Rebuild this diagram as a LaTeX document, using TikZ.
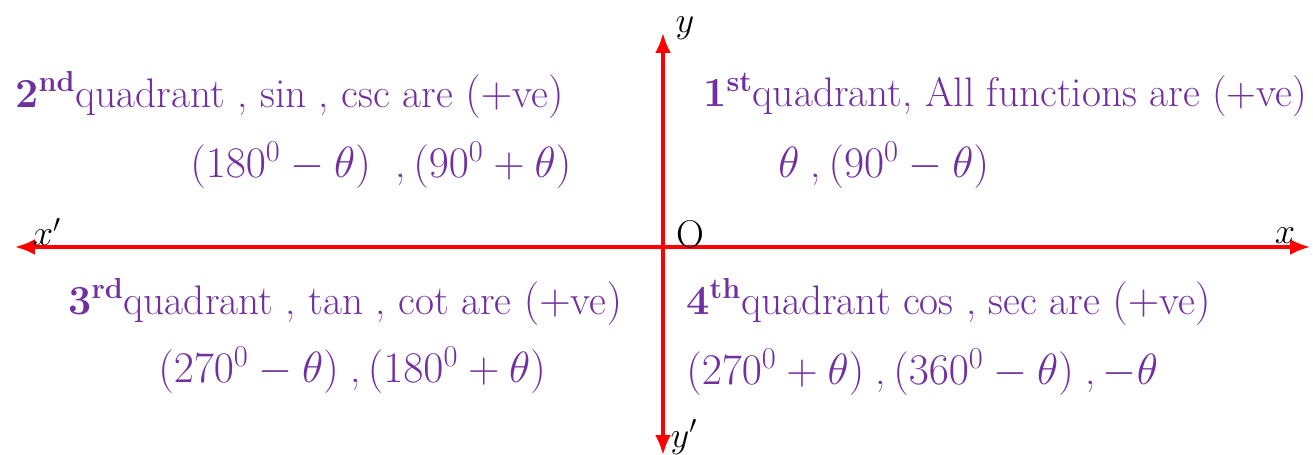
\documentclass[tikz,border=0pt]{standalone}
\usepackage{amsmath}
\usepackage{xcolor}
\usetikzlibrary{arrows.meta}
\definecolor{quadpurple}{RGB}{112,48,160}

\begin{document}
\begin{tikzpicture}[x=0.02cm, y=-0.02cm,
    axis/.style={{Latex[length=4mm,width=3.2mm]}-{Latex[length=4mm,width=3.2mm]}, red, line width=1.8pt},
    quad/.style={anchor=west, text=quadpurple, font=\fontsize{23.5}{26}\selectfont, inner sep=0pt},
    lbl/.style={font=\fontsize{22}{24}\selectfont, inner sep=0pt}
]
\useasboundingbox (0,0) rectangle (1313,455);

% axes
\coordinate (xl) at (15,247);
\coordinate (xr) at (1310,247);
\coordinate (yt) at (663,33);
\coordinate (yb) at (663,455);
\draw[axis] (xl) -- (xr);
\draw[axis] (yb) -- (yt);

\node[lbl] (xlab) at (47,232) {$x'$};
\node[lbl] (xrlab) at (1285,236) {$x$};
\node[lbl] (ylab) at (685,28) {$y$};
\node[lbl] (yblab) at (684,437) {$y'$};
\node[lbl] (olab) at (690,234) {O};

% 2nd quadrant
\node[quad] (q2a) at (15,95) {\textbf{2}$^{\textbf{nd}}$quadrant , sin , csc are $(+$ve$)$};
\node[quad] (q2b) at (190,165) {$(180^0-\theta)$\ \ ,$\,(90^0+\theta)$};

% 1st quadrant
\node[quad] (q1a) at (703,95) {\textbf{1}$^{\textbf{st}}$quadrant, All functions are (+ve)};
\node[quad] (q1b) at (778,165) {$\theta$\;,$\,(90^0-\theta)$};

% 3rd quadrant
\node[quad] (q3a) at (68,302) {\textbf{3}$^{\textbf{rd}}$quadrant , tan , cot are $(+$ve$)$};
\node[quad] (q3b) at (158,370) {$(270^0-\theta)$\;,$\,(180^0+\theta)$};

% 4th quadrant
\node[quad] (q4a) at (686,302) {\textbf{4}$^{\textbf{th}}$quadrant cos , sec are $(+$ve$)$};
\node[quad] (q4b) at (686,372) {$(270^0+\theta)$\;,$\,(360^0-\theta)$\;,$\,-\theta$};

\end{tikzpicture}
\end{document}
